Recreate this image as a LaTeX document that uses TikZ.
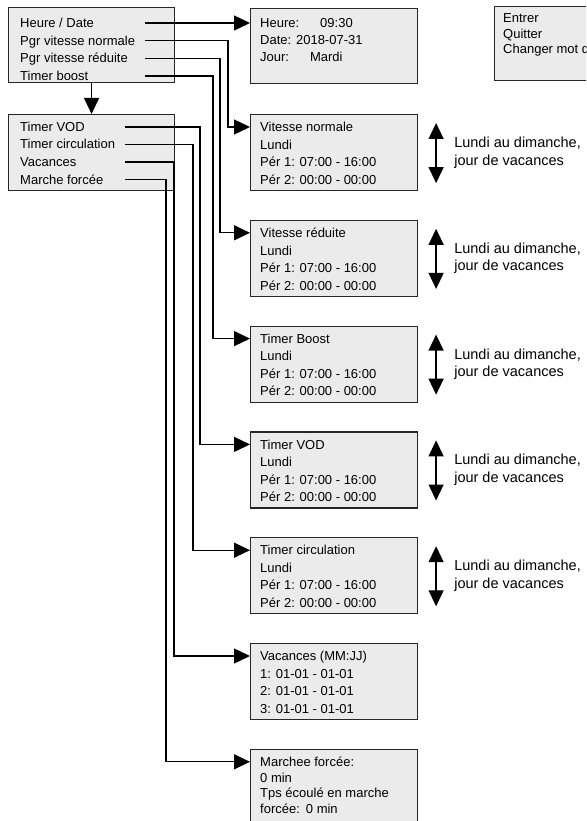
\documentclass[tikz,border=0pt]{standalone}
\usepackage{fontspec}
\setmainfont{Liberation Sans}
\usetikzlibrary{arrows.meta,positioning,calc}

\begin{document}
\begin{tikzpicture}[x=1pt,y=-1pt,>={Triangle[length=16pt,width=15pt]},
    every node/.style={font=\fontsize{13}{17.5}\selectfont},
    scrbox/.style={draw=black!85,fill=black!8,line width=1.1pt,anchor=north west,
      minimum width=167pt,minimum height=76pt,inner sep=0pt},
    scrtxt/.style={anchor=north west,inner sep=0pt,align=left},
    item/.style={anchor=west,inner sep=0pt,text height=10pt,text depth=1pt},
    side/.style={anchor=west,inner sep=0pt,align=left,font=\fontsize{14.5}{17.5}\selectfont},
    link/.style={line width=1.3pt}]
\useasboundingbox (0,0) rectangle (586,821);
\clip (0,0) rectangle (586,821);

% menus
\node[scrbox,minimum width=166pt,minimum height=75pt] (ma) at (8,7) {};
\node[item] (ma1) at (20,23) {Heure / Date};
\node[item] (ma2) at (20,40.7) {Pgr vitesse normale};
\node[item] (ma3) at (20,58.3) {Pgr vitesse réduite};
\node[item] (ma4) at (20,76) {Timer boost};
\node[scrbox,minimum width=166pt,minimum height=76pt] (mb) at (8,114) {};
\node[item] (mb1) at (20,127) {Timer VOD};
\node[item] (mb2) at (20,144.5) {Timer circulation};
\node[item] (mb3) at (20,162) {Vacances};
\node[item] (mb4) at (20,179.5) {Marche forcée};
\draw[link,->] (ma) -- (mb);
\coordinate (ja) at (145,0);
\coordinate (jb) at (125,0);

% password box, top right
\node[scrbox,minimum width=140pt,minimum height=74pt] (pw) at (494,6) {};
\node[scrtxt,font=\fontsize{13}{15.5}\selectfont] (pw-t) at ($(pw.north west)+(9,7.5)$) {Entrer\\Quitter\\Changer mot de passe};

% screens
\node[scrbox,minimum height=75pt] (hd) at (250,8) {};
\node[scrtxt,font=\fontsize{13}{17}\selectfont] (hd-t) at ($(hd.north west)+(10,10.5)$) {Heure:\hspace{21pt}09:30\\Date: 2018-07-31\\Jour:\hspace{21pt}Mardi};

\node[scrbox] (vn) at (250,114) {};
\node[scrtxt] (vn-t) at ($(vn.north west)+(10,8)$) {Vitesse normale\\Lundi\\Pér 1: 07:00 - 16:00\\Pér 2: 00:00 - 00:00};
\node[scrbox,below=28.7pt of vn] (vr) {};
\node[scrtxt] (vr-t) at ($(vr.north west)+(10,8)$) {Vitesse réduite\\Lundi\\Pér 1: 07:00 - 16:00\\Pér 2: 00:00 - 00:00};
\node[scrbox,below=28.7pt of vr] (tb) {};
\node[scrtxt] (tb-t) at ($(tb.north west)+(10,8)$) {Timer Boost\\Lundi\\Pér 1: 07:00 - 16:00\\Pér 2: 00:00 - 00:00};
\node[scrbox,below=28.7pt of tb] (tv) {};
\node[scrtxt] (tv-t) at ($(tv.north west)+(10,8)$) {Timer VOD\\Lundi\\Pér 1: 07:00 - 16:00\\Pér 2: 00:00 - 00:00};
\node[scrbox,below=28.7pt of tv] (tc) {};
\node[scrtxt] (tc-t) at ($(tc.north west)+(10,8)$) {Timer circulation\\Lundi\\Pér 1: 07:00 - 16:00\\Pér 2: 00:00 - 00:00};
\node[scrbox,below=28.7pt of tc] (vc) {};
\node[scrtxt] (vc-t) at ($(vc.north west)+(10,8)$) {Vacances (MM:JJ)\\1: 01-01 - 01-01\\2: 01-01 - 01-01\\3: 01-01 - 01-01};
\node[scrbox,below=28.7pt of vc,minimum height=82pt] (mf) {};
\node[scrtxt,font=\fontsize{13}{15.7}\selectfont] (mf-t) at ($(mf.north west)+(10,8)$) {Marchee forcée:\\0 min\\Tps écoulé en marche\\forcée:\hspace{6pt}0 min};

% day selection
\node[side,right=36pt of vn] (vn-s) {Lundi au dimanche,\\jour de vacances};
\draw[link,<->] ($(vn.north east)+(18,9)$) -- ($(vn.south east)+(18,-8)$);
\node[side,right=36pt of vr] (vr-s) {Lundi au dimanche,\\jour de vacances};
\draw[link,<->] ($(vr.north east)+(18,9)$) -- ($(vr.south east)+(18,-8)$);
\node[side,right=36pt of tb] (tb-s) {Lundi au dimanche,\\jour de vacances};
\draw[link,<->] ($(tb.north east)+(18,9)$) -- ($(tb.south east)+(18,-8)$);
\node[side,right=36pt of tv] (tv-s) {Lundi au dimanche,\\jour de vacances};
\draw[link,<->] ($(tv.north east)+(18,9)$) -- ($(tv.south east)+(18,-8)$);
\node[side,right=36pt of tc] (tc-s) {Lundi au dimanche,\\jour de vacances};
\draw[link,<->] ($(tc.north east)+(18,9)$) -- ($(tc.south east)+(18,-8)$);

% menu links
\draw[link,->] (ma1 -| ja) -- (ma1 -| hd.west);
\draw[link,->] (ma2 -| ja) -| ($(vn.north west)+(-22,13)$) -- ($(vn.north west)+(0,13)$);
\draw[link,->] (ma3 -| ja) -| ($(vr.north west)+(-30,13)$) -- ($(vr.north west)+(0,13)$);
\draw[link,->] (ma4 -| ja) -| ($(tb.north west)+(-37,13)$) -- ($(tb.north west)+(0,13)$);
\draw[link,->] (mb1 -| jb) -| ($(tv.north west)+(-50,13)$) -- ($(tv.north west)+(0,13)$);
\draw[link,->] (mb2 -| jb) -| ($(tc.north west)+(-57,13)$) -- ($(tc.north west)+(0,13)$);
\draw[link,->] (mb3 -| jb) -| ($(vc.north west)+(-76,13)$) -- ($(vc.north west)+(0,13)$);
\draw[link,->] (mb4 -| jb) -| ($(mf.north west)+(-84,13)$) -- ($(mf.north west)+(0,13)$);
\end{tikzpicture}
\end{document}
